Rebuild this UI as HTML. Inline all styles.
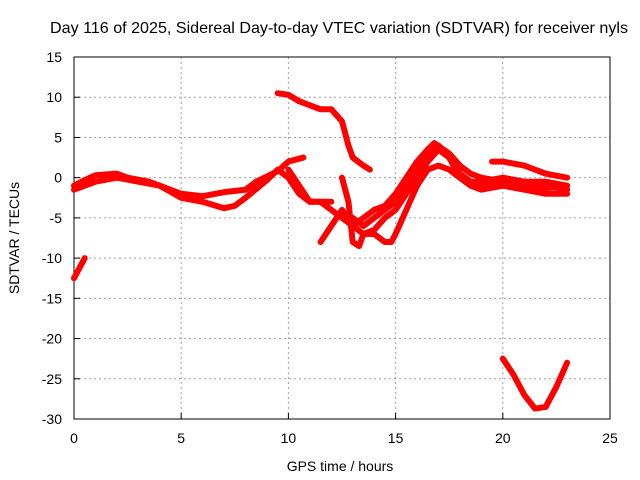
<!DOCTYPE html>
<html><head><meta charset="utf-8"><style>
body{margin:0;background:#fff}
svg{display:block;font-family:"Liberation Sans",sans-serif;font-size:14px}
</style></head><body>
<svg id="chart" width="640" height="480">
<rect width="640" height="480" fill="#fff"/>
<g id="grid"></g><g id="axes"></g><g id="marks"></g>
<text x="339" y="33" text-anchor="middle" style="font-size:16px" textLength="578" lengthAdjust="spacingAndGlyphs">Day 116 of 2025, Sidereal Day-to-day VTEC variation (SDTVAR) for receiver nyls</text>
<text x="340" y="471" text-anchor="middle">GPS time / hours</text>
<text transform="translate(19,238) rotate(-90)" text-anchor="middle">SDTVAR / TECUs</text>
</svg>
<script>
const xTicks=[0,5,10,15,20,25];
const yTicks=[15,10,5,0,-5,-10,-15,-20,-25,-30];
const trackA=[[0,-1],[0.5,-0.3],[1,0.3],[2,0.5],[2.5,0],[3.5,-0.5],[4,-1],[5,-2],[6,-2.3],[7,-1.8],[8,-1.5],[8.5,-0.5],[9.5,0.8],[10,2],[10.7,2.5]];
const trackB=[[0,-1.5],[1,-0.5],[2,0],[3,-0.5],[4,-1],[5,-2.5],[6,-3],[7,-3.8],[7.5,-3.5],[8,-2.5],[9,-0.3],[9.5,1],[10,0],[10.5,-2],[11,-3],[12,-3]];
const trackC=[[9.5,10.5],[10,10.3],[10.5,9.5],[11,9],[11.5,8.5],[12,8.5],[12.5,7],[12.8,4],[13,2.5],[13.5,1.5],[13.8,1]];
const trackD=[[11.5,-8],[12,-6],[12.5,-4],[13,-6],[13.5,-5],[14,-4],[14.5,-3.5],[15,-2],[15.5,0],[16,2],[16.5,3.5],[16.8,4.3],[17.5,3],[18,1.5],[18.5,0.5],[19,0],[20,-0.5],[21,-1],[22,-1.3],[23,-1]];
const trackE=[[12.5,0],[12.8,-3],[13,-8],[13.3,-8.5],[13.5,-7],[14,-6.5],[14.5,-5],[15,-4],[15.5,-2],[16,0],[16.5,2],[17,3.5],[17.5,2.5],[18,0],[18.5,-0.5],[19,-1],[20,-0.5],[21,-0.5],[22,-0.5],[23,-1]];
const trackF=[[10,1],[10.5,-1],[11,-3],[11.5,-3],[12,-4],[12.5,-5],[13,-6],[13.5,-7],[14,-7],[14.5,-8],[14.8,-8],[15,-7],[15.5,-4],[16,-1],[16.5,1],[17,1.5],[17.5,1],[18,0],[18.5,-1],[19,-1.5],[20,-1],[21,-1.5],[22,-2],[23,-2]];
const trackG=[[13,-5],[13.5,-6],[14,-5],[14.5,-4],[15,-3],[15.5,-1],[16,1],[16.5,3],[17,4],[17.5,2.5],[18,0.5],[18.5,-0.5],[19,-0.5],[20,0],[21,-0.5],[22,-1],[23,-1.5]];
const trackH=[[19.5,2],[20,2],[21,1.5],[22,0.5],[23,0]];
const trackI=[[0,-12.5],[0.2,-11.5],[0.5,-10]];
const trackJ=[[20,-22.5],[20.5,-24.5],[21,-27],[21.5,-28.7],[22,-28.5],[22.5,-26],[23,-23]];
const tracks=[trackA,trackB,trackC,trackD,trackE,trackF,trackG,trackH,trackI,trackJ];
const X=v=>74+v*(536/25), Y=v=>57+(15-v)*(362/45);
const NS="http://www.w3.org/2000/svg";
function mk(t,a,p){const e=document.createElementNS(NS,t);for(const k in a)e.setAttribute(k,a[k]);p.appendChild(e);return e;}
const grid=document.getElementById('grid'),axes=document.getElementById('axes'),marks=document.getElementById('marks');
xTicks.forEach(t=>{
 if(t>0&&t<25){const g=mk('line',{x1:X(t),x2:X(t),y1:57,y2:419,stroke:'#a0a0a0','stroke-dasharray':'2,3'},grid);
 }
 const l=mk('text',{x:X(t),y:443,'text-anchor':'middle'},axes);l.textContent=t;
 
 mk('line',{x1:X(t),x2:X(t),y1:419,y2:413,stroke:'#000'},axes);
});
yTicks.forEach(t=>{
 if(t<15&&t>-30){const g=mk('line',{x1:74,x2:610,y1:Y(t),y2:Y(t),stroke:'#a0a0a0','stroke-dasharray':'2,3'},grid);
 }
 const l=mk('text',{x:62,y:Y(t)+5,'text-anchor':'end'},axes);l.textContent=t;
 
 mk('line',{x1:74,x2:80,y1:Y(t),y2:Y(t),stroke:'#000'},axes);
});
const fr=mk('rect',{x:74,y:57,width:536,height:362,fill:'none',stroke:'#000'},axes);

tracks.forEach(tr=>{
 const p=mk('polyline',{points:tr.map(d=>X(d[0])+','+Y(d[1])).join(' '),fill:'none',stroke:'#ff0000','stroke-width':6,'stroke-linejoin':'round','stroke-linecap':'round'},marks);
 
});
</script>
</body></html>
